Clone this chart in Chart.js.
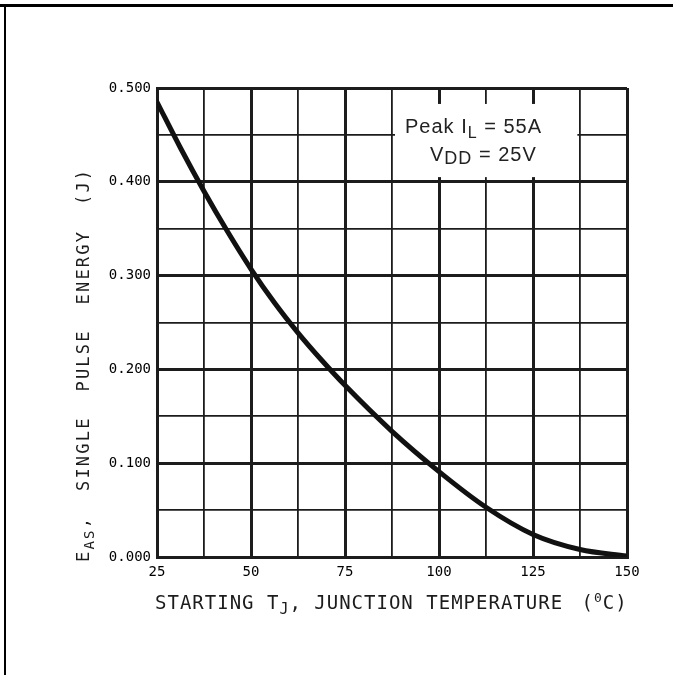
<!DOCTYPE html>
<html>
<head>
<meta charset="utf-8">
<script src="https://cdn.jsdelivr.net/npm/chart.js@4.4.1/dist/chart.umd.min.js"></script>
<style>
  html, body { margin: 0; padding: 0; background: #fff; }
  #wrap { position: relative; width: 673px; height: 675px; }
  #top { position: absolute; left: 0; top: 4px; width: 673px; height: 3px; background: #000; }
  #left { position: absolute; left: 4px; top: 4px; width: 2px; bottom: 0; background: #000; }
  canvas { position: absolute; left: 0; top: 0; }
</style>
</head>
<body>
<div id="wrap">
  <canvas id="chart" width="673" height="675"></canvas>
  <div id="top"></div>
  <div id="left"></div>
</div>
<script>
// starting junction temperature (deg C) and single pulse energy (J)
const temps  = [25, 31.25, 37.5, 43.75, 50, 56.25, 62.5, 68.75, 75, 87.5, 100, 112.5, 125, 137.5, 150];
const energy = [0.485, 0.436, 0.390, 0.347, 0.307, 0.271, 0.239, 0.210, 0.183, 0.134, 0.091, 0.053, 0.024, 0.008, 0.001];

const xLabels = ['25', '50', '75', '100', '125', '150'];
const yLabels = ['0.000', '0.100', '0.200', '0.300', '0.400', '0.500'];

const ink = '#1c1c1c';
const mono = '"DejaVu Sans Mono", monospace';
const sans = '"Liberation Sans", Arial, sans-serif';

function isMajorX(v) { return Math.abs(v / 25 - Math.round(v / 25)) < 1e-6; }
function isMajorY(v) { return Math.abs(v * 10 - Math.round(v * 10)) < 1e-6; }

// axis titles with sub/superscripts and the test-condition box
const decor = {
  id: 'decor',
  afterDraw(chart) {
    const ctx = chart.ctx;
    const x = chart.scales.x, y = chart.scales.y;
    let cx = 0, base = 0;
    const put = (txt, font, dy) => {
      ctx.font = font;
      ctx.fillText(txt, cx, base + dy);
      cx += ctx.measureText(txt).width;
    };

    ctx.save();
    ctx.fillStyle = ink;
    ctx.textBaseline = 'alphabetic';

    // x title
    ctx.letterSpacing = '1px';
    cx = 155; base = 609;
    put('STARTING T', '19px ' + mono, 0);
    put('J', '15px ' + mono, 5);
    put(', JUNCTION TEMPERATURE ', '19px ' + mono, 0);
    cx += 6;
    put('(', '19px ' + mono, 0);
    put('0', '13px ' + mono, -7);
    put('C)', '19px ' + mono, 0);

    // y title, rotated
    ctx.translate(89, 562);
    ctx.rotate(-Math.PI / 2);
    cx = 0; base = 0;
    ctx.letterSpacing = '2.2px';
    put('E', '17px ' + mono, 0);
    put('AS', '14px ' + mono, 5);
    put(',  SINGLE  PULSE  ENERGY  (J)', '17px ' + mono, 0);
    ctx.restore();

    // annotation box
    ctx.save();
    const bx0 = x.getPixelForValue(88.3), bx1 = x.getPixelForValue(136.8);
    const by0 = y.getPixelForValue(0.483), by1 = y.getPixelForValue(0.405);
    ctx.fillStyle = '#fff';
    ctx.fillRect(bx0, by0, bx1 - bx0, by1 - by0);
    ctx.fillStyle = '#222';
    ctx.textBaseline = 'alphabetic';
    ctx.letterSpacing = '1px';
    cx = 405; base = 133;
    put('Peak I', '20px ' + sans, 0);
    put('L', '16px ' + sans, 5);
    put(' = 55A', '20px ' + sans, 0);
    cx = 430; base = 161;
    put('V', '20px ' + sans, 0);
    put('DD', '18px ' + sans, 3);
    put(' = 25V', '20px ' + sans, 0);
    ctx.restore();
  }
};

new Chart(document.getElementById('chart'), {
  type: 'line',
  data: {
    datasets: [{
      data: temps.map((t, i) => ({ x: t, y: energy[i] })),
      borderColor: '#111',
      borderWidth: 5,
      pointRadius: 0,
      fill: false,
      cubicInterpolationMode: 'monotone',
      borderCapStyle: 'round'
    }]
  },
  options: {
    responsive: false,
    animation: false,
    layout: { padding: { left: 0, top: 88, right: 46, bottom: 0 } },
    plugins: { legend: { display: false }, tooltip: { enabled: false } },
    scales: {
      x: {
        type: 'linear',
        min: 25, max: 150,
        afterFit(s) { s.height = 118; },
        border: { display: true, color: ink, width: 3 },
        grid: {
          drawTicks: false,
          color: ink,
          lineWidth: c => isMajorX(c.tick.value) ? 3 : 1.8
        },
        ticks: {
          stepSize: 12.5,
          autoSkip: false,
          maxRotation: 0,
          padding: 7,
          color: '#000',
          font: { family: mono, size: 14 },
          callback: v => isMajorX(v) ? xLabels[Math.round((v - 25) / 25)] : ''
        }
      },
      y: {
        min: 0, max: 0.5,
        afterFit(s) { s.width = 157; },
        border: { display: true, color: ink, width: 3 },
        grid: {
          drawTicks: false,
          color: ink,
          lineWidth: c => isMajorY(c.tick.value) ? 3 : 1.8
        },
        ticks: {
          stepSize: 0.05,
          autoSkip: false,
          padding: 6,
          color: '#000',
          font: { family: mono, size: 14 },
          callback: v => isMajorY(v) ? yLabels[Math.round(v * 10)] : ''
        }
      }
    }
  },
  plugins: [decor]
});
</script>
</body>
</html>
